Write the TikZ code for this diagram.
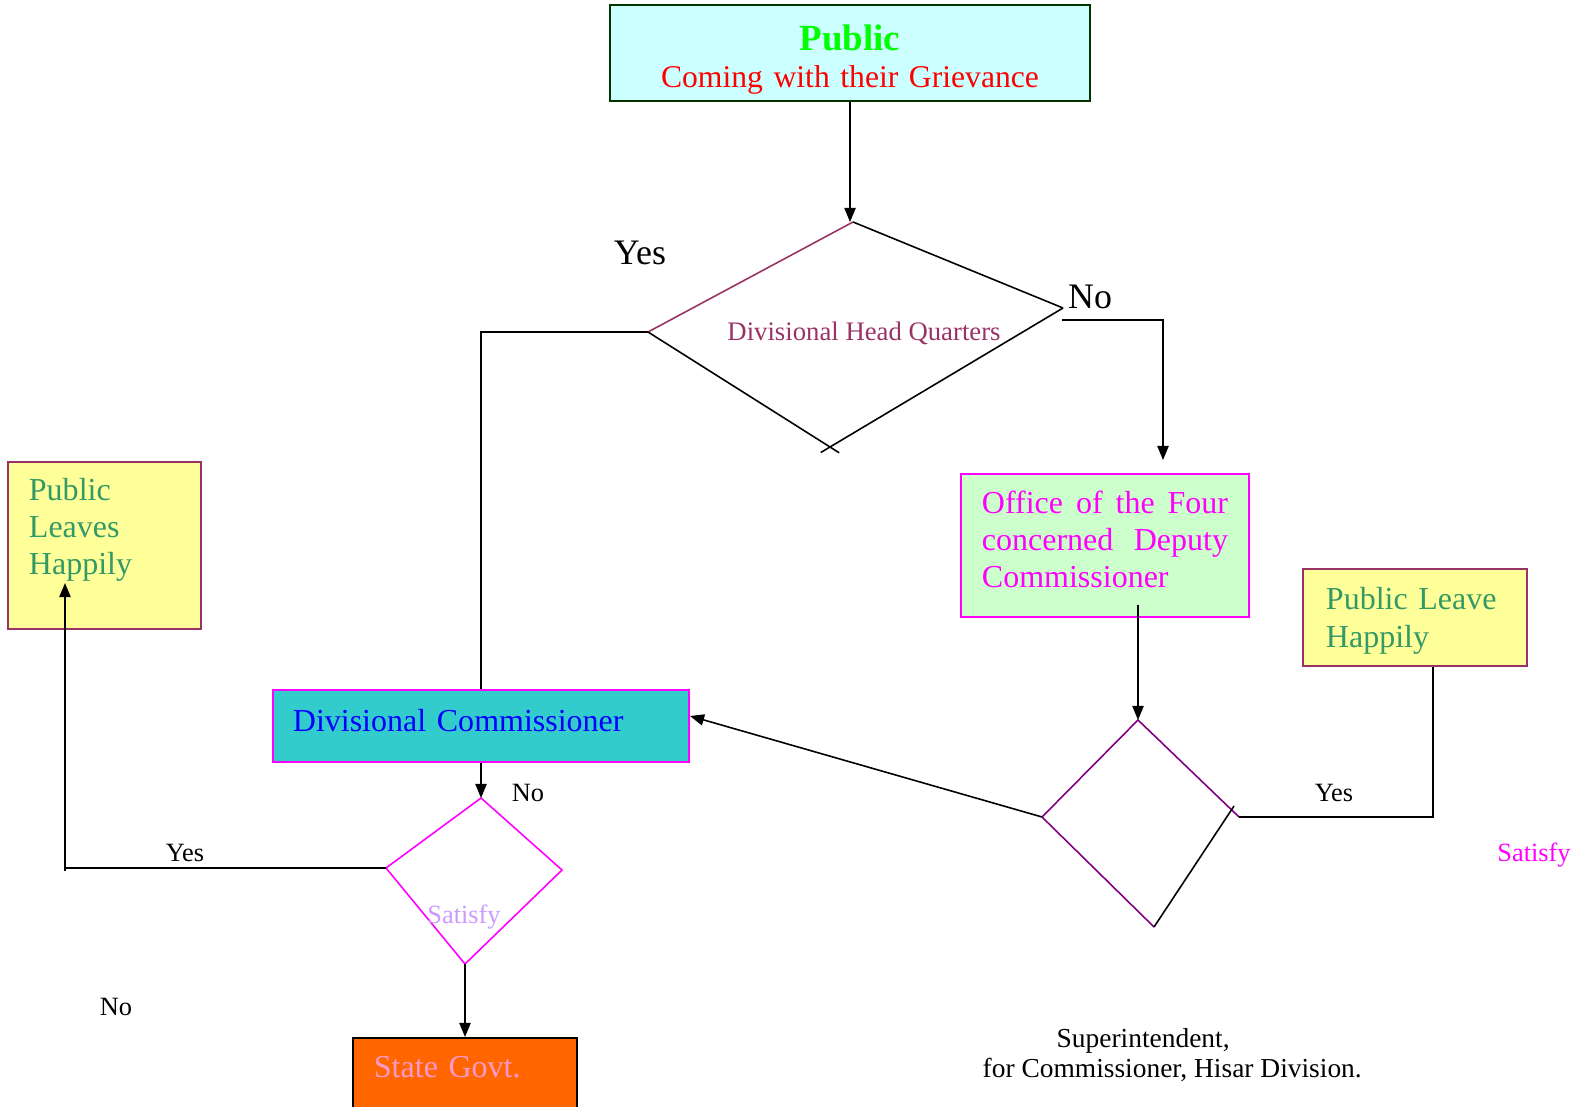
\documentclass[tikz,border=0pt]{standalone}
\usepackage{fontspec}
\setmainfont{Liberation Serif}
\usepackage{tikz}
\usetikzlibrary {arrows.meta,
                 calc,
                 positioning}
\definecolor{cyanbg}{HTML}{CCFFFF}
\definecolor{darkgreen}{HTML}{003300}
\definecolor{pubgreen}{HTML}{00FF00}
\definecolor{maroon}{HTML}{993366}
\definecolor{mintbg}{HTML}{CCFFCC}
\definecolor{yellowbg}{HTML}{FFFF99}
\definecolor{seagreen}{HTML}{339966}
\definecolor{tealbg}{HTML}{33CCCC}
\definecolor{lavender}{HTML}{CC99FF}
\definecolor{orangebg}{HTML}{FF6600}
\definecolor{pinktxt}{HTML}{FF99CC}
\definecolor{purple}{HTML}{800080}
\definecolor{fuchsia}{HTML}{FF00FF}
\definecolor{pureblue}{HTML}{0000FF}
\definecolor{purered}{HTML}{FF0000}
\tikzset{
        base/.style={draw, line width=0.5pt, rectangle, inner ysep=0pt},
        box/.style={base, align=left, font=\fontsize{9.1}{10.6}\selectfont},
        edge/.style={line width=0.45pt},
        myarrow/.style={-{Triangle[length=4pt, width=3.2pt]}, line width=0.45pt},
        smalltxt/.style={inner sep=0pt, font=\fontsize{7.5}{9}\selectfont},
        bigtxt/.style={inner sep=0pt, font=\fontsize{10.2}{12}\selectfont},
 }
\begin{document}
\begin{tikzpicture}[x=0.01cm, y=-0.01cm]
    \useasboundingbox (0,0) rectangle (1586,1107);

    % boxes
    \node[box, fill=cyanbg, draw=darkgreen, align=center, text=purered,
          minimum width=4.8cm, minimum height=0.96cm, text width=4.4cm,
          font=\fontsize{9}{10.5}\selectfont, text depth=0.31cm] (public) at (850,53)
         {{\fontsize{10.5}{10.5}\selectfont\bfseries\color{pubgreen}Public}\\
          Coming with their Grievance};
    \node[box, fill=mintbg, draw=fuchsia, text=fuchsia, align=justify,
          minimum width=2.88cm, minimum height=1.43cm, text width=2.46cm,
          inner xsep=0.21cm, text depth=0.87cm] (office) at (1105,545.5)
         {Office of the Four concerned Deputy Commissioner};
    \node[box, fill=yellowbg, draw=maroon, text=seagreen,
          minimum width=2.24cm, minimum height=0.97cm, text width=1.78cm,
          inner xsep=0.23cm, text depth=0.39cm,
          font=\fontsize{9.1}{11}\selectfont] (leave) at (1415,617.5)
         {Public Leave\\Happily};
    \node[box, fill=yellowbg, draw=maroon, text=seagreen,
          minimum width=1.93cm, minimum height=1.67cm, text width=1.51cm,
          inner xsep=0.21cm, text depth=1.13cm] (happy) at (104.5,545.5)
         {Public\\Leaves\\Happily};
    \node[box, fill=tealbg, draw=fuchsia, text=pureblue,
          minimum width=4.16cm, minimum height=0.72cm, text width=3.76cm,
          inner xsep=0.2cm, text depth=0.12cm] (dc) at (481,726)
         {Divisional Commissioner};
    \node[box, fill=orangebg, draw=black, text=pinktxt, anchor=north,
          minimum width=2.24cm, minimum height=0.8cm, text width=1.82cm,
          inner xsep=0.21cm, text depth=0.22cm] (state) at (465,1037)
         {State Govt.};

    % decisions
    \coordinate (dhqT) at (853,222);
    \coordinate (dhqL) at (648,332);
    \coordinate (dhqR) at (1063,308);
    \coordinate (dhqB) at (830,447);
    \draw[edge, draw=maroon] (dhqL) -- (dhqT);
    \draw[edge] (dhqT) -- (dhqR);
    \draw[edge] (dhqL) -- ($(dhqL)!1.05!(dhqB)$);
    \draw[edge] (dhqR) -- ($(dhqR)!1.04!(dhqB)$);
    \node[inner sep=0pt, text=maroon, font=\fontsize{7.6}{9}\selectfont] (dhq)
         at (864,333) {Divisional Head Quarters};

    \coordinate (cmT) at (1138,720);
    \coordinate (cmL) at (1042,817);
    \coordinate (cmR) at (1239,817);
    \coordinate (cmB) at (1154,927);
    \coordinate (cmX) at (1234,806);
    \draw[edge, draw=purple] (cmL) -- (cmT) -- (cmR);
    \draw[edge, draw=purple] (cmL) -- (cmB);
    \draw[edge] (cmB) -- (cmX);

    \coordinate (stT) at (481,798);
    \coordinate (stL) at (386,868);
    \coordinate (stR) at (562,870);
    \coordinate (stB) at (465,964);
    \draw[edge, draw=fuchsia] (stT) -- (stR) -- (stB) -- (stL) -- cycle;

    % connectors
    \coordinate (noStart) at (1062,320);
    \coordinate (noEnd) at (1163,460);
    \coordinate (officeOut) at (1138,605);
    \coordinate (happyIn) at (65,583);
    \coordinate (yesCorner) at (65,871);
    \draw[myarrow] (public.south) -- (public.south |- dhqT);
    \draw[edge] (dhqL) -| (dc.north);
    \draw[myarrow] (noStart) -| (noEnd);
    \draw[myarrow] (officeOut) -- (cmT);
    \draw[myarrow] (cmL) -- ([yshift=0.1cm]dc.east);
    \draw[edge] (cmR) -| ([xshift=0.18cm]leave.south);
    \draw[myarrow] (dc.south) -- (stT);
    \draw[edge] (stL) -- (stL -| yesCorner);
    \draw[myarrow] (yesCorner) -- (happyIn);
    \draw[myarrow] (stB) -- (state.north);

    % labels
    \node[bigtxt] (yesTop) at (640,253) {Yes};
    \node[bigtxt] (noTop) at (1090,297) {No};
    \node[smalltxt] (noDc) at (528,793) {No};
    \node[smalltxt] (yesLeft) at (185,853) {Yes};
    \node[smalltxt] (yesRight) at (1334,793) {Yes};
    \node[smalltxt, text=lavender] (satLeft) at (464,917) {Satisfy};
    \node[smalltxt, text=fuchsia] (satRight) at (1534,855) {Satisfy};
    \node[smalltxt] (noLeft) at (116,1007) {No};
    \node[inner sep=0pt, anchor=base west, font=\fontsize{7.8}{9}\selectfont] (sup)
         at (1056,1047) {Superintendent,};
    \node[inner sep=0pt, anchor=base west, font=\fontsize{7.8}{9}\selectfont] (supFor)
         at (982,1077) {for Commissioner, Hisar Division.};
\end{tikzpicture}
\end{document}
